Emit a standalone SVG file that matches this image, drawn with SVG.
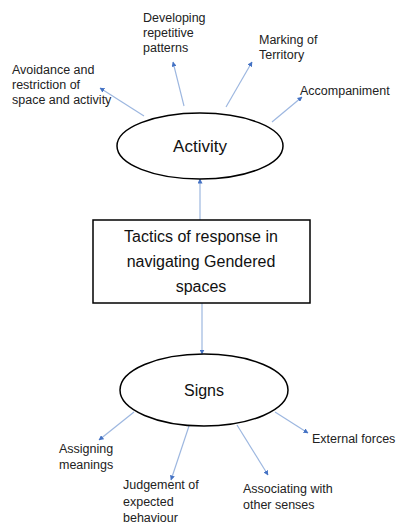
<svg xmlns="http://www.w3.org/2000/svg" width="397" height="525" viewBox="0 0 397 525">
<defs>
<marker id="ah" viewBox="0 0 10 10" refX="9" refY="5" markerWidth="5" markerHeight="5" orient="auto-start-reverse" markerUnits="userSpaceOnUse">
<path d="M0,0 L10,5 L0,10 z" fill="#4472c4"/>
</marker>
<style>
.conn{stroke:#9db7e0;stroke-width:1.2;fill:none;marker-end:url(#ah)}
.shape{fill:#fff;stroke:#000;stroke-width:1.5}
.lbl{font-family:"Liberation Sans",Arial,sans-serif;font-size:12.5px;fill:#222}
.main{font-family:"Liberation Sans",Arial,sans-serif;font-size:16px;fill:#111;text-anchor:middle}
</style>
</defs>
<rect width="397" height="525" fill="#fff"/>
<g id="connectors">
<line class="conn" x1="200" y1="220" x2="200" y2="179"/>
<line class="conn" x1="202" y1="303" x2="202" y2="354"/>
<line class="conn" x1="144" y1="116" x2="100" y2="88"/>
<line class="conn" x1="184" y1="106" x2="173" y2="62"/>
<line class="conn" x1="226" y1="107" x2="252" y2="62"/>
<line class="conn" x1="272" y1="122" x2="302" y2="97"/>
<line class="conn" x1="134" y1="412" x2="99" y2="440"/>
<line class="conn" x1="189" y1="426" x2="171" y2="480"/>
<line class="conn" x1="237" y1="425" x2="268" y2="475"/>
<line class="conn" x1="275" y1="412" x2="308" y2="433"/>
</g>
<g id="activity">
<ellipse class="shape" cx="200" cy="146" rx="83" ry="33"/>
<text class="main" x="200" y="152" style="font-size:17px">Activity</text>
</g>
<g id="tactics">
<rect class="shape" x="93" y="220" width="217" height="83"/>
<text class="main" x="201" y="242">Tactics of response in</text>
<text class="main" x="201" y="267">navigating Gendered</text>
<text class="main" x="201" y="292">spaces</text>
</g>
<g id="signs">
<ellipse class="shape" cx="204" cy="390" rx="84" ry="36"/>
<text class="main" x="204" y="396">Signs</text>
</g>
<g id="avoidance">
<text class="lbl" x="12" y="74">Avoidance and</text>
<text class="lbl" x="12" y="89">restriction of</text>
<text class="lbl" x="12" y="104">space and activity</text>
</g>
<g id="developing">
<text class="lbl" x="143" y="22">Developing</text>
<text class="lbl" x="143" y="37">repetitive</text>
<text class="lbl" x="143" y="52">patterns</text>
</g>
<g id="marking">
<text class="lbl" x="259" y="44">Marking of</text>
<text class="lbl" x="259" y="59">Territory</text>
</g>
<g id="accompaniment">
<text class="lbl" x="300" y="95">Accompaniment</text>
</g>
<g id="assigning">
<text class="lbl" x="59" y="453">Assigning</text>
<text class="lbl" x="59" y="469">meanings</text>
</g>
<g id="judgement">
<text class="lbl" x="123" y="489">Judgement of</text>
<text class="lbl" x="123" y="506">expected</text>
<text class="lbl" x="123" y="522">behaviour</text>
</g>
<g id="associating">
<text class="lbl" x="243" y="493">Associating with</text>
<text class="lbl" x="243" y="509">other senses</text>
</g>
<g id="external">
<text class="lbl" x="312" y="443">External forces</text>
</g>
</svg>
